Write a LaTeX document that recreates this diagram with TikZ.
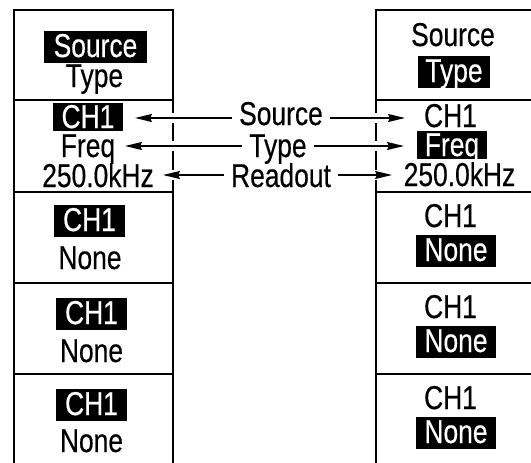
\documentclass[tikz,border=0pt]{standalone}
\usepackage{fontspec}
\setmainfont{Liberation Sans}[FakeStretch=0.8,FakeBold=0.4]
\usetikzlibrary{arrows.meta}
\begin{document}
\begin{tikzpicture}[x=1pt,y=-1pt,
  txt/.style={font=\fontsize{33}{33}\selectfont, inner sep=0pt, anchor=base},
  hl/.style={txt, fill=black, text=white, text height=24pt, text depth=4pt, inner ysep=2pt, inner xsep=0pt},
  tight/.style={text depth=1.5pt, inner ysep=1.5pt},
  border/.style={line width=2.7pt, line cap=rect},
  divider/.style={line width=1.4pt},
  gapline/.style={white, line width=4pt},
  arr/.style={line width=1.8pt, -{Stealth[length=17pt,width=8pt,inset=2pt]}}
]
\useasboundingbox (0,0) rectangle (531,463);
% panels
\draw[border] (14,463) -- (14,10) -- (173,10) -- (173,463);
\draw[border] (531,10) -- (376,10) -- (376,463);
\foreach \yy in {100,192,283,374}{
  \draw[divider] (14,\yy) -- (173,\yy);
  \draw[divider] (376,\yy) -- (531,\yy);
}
% gaps in borders where arrows cross
\foreach \yy in {118,146,175}{
  \draw[gapline] (173,\yy-5) -- (173,\yy+5);
  \draw[gapline] (376,\yy-5) -- (376,\yy+5);
}
% left column
\node[hl, minimum width=103pt] (lsrc) at (95.5,57) {Source};
\node[txt] (ltype) at (94.5,87) {Type};
\node[hl, tight, minimum width=70pt] (lch1a) at (88,128) {CH1};
\node[txt] (lfreq) at (88,157) {Freq};
\node[txt] (lread) at (98,187) {250.0kHz};
\node[hl, minimum width=71pt] (lch1b) at (89.5,231) {CH1};
\node[txt] (lnoneb) at (90,269) {None};
\node[hl, minimum width=71pt] (lch1c) at (91.5,324) {CH1};
\node[txt] (lnonec) at (91.5,362) {None};
\node[hl, minimum width=71pt] (lch1d) at (91.5,415) {CH1};
\node[txt] (lnoned) at (91.5,452) {None};
% right column
\node[txt] (rsrc) at (453,46) {Source};
\node[hl, minimum width=72pt] (rtype) at (454,82) {Type};
\node[txt] (rch1a) at (450.5,127) {CH1};
\node[hl, tight, minimum width=70pt] (rfreq) at (452,156) {Freq};
\node[txt] (rread) at (459.5,186) {250.0kHz};
\node[txt] (rch1b) at (450.5,227) {CH1};
\node[hl, minimum width=80pt] (rnoneb) at (456,261) {None};
\node[txt] (rch1c) at (450.5,318) {CH1};
\node[hl, minimum width=80pt] (rnonec) at (456,352) {None};
\node[txt] (rch1d) at (450.5,409) {CH1};
\node[hl, minimum width=80pt] (rnoned) at (456,443) {None};
% middle labels
\node[txt] (msrc) at (281,125) {Source};
\node[txt] (mtype) at (278,157) {Type};
\node[txt] (mread) at (281,187) {Readout};
% arrow end points
\coordinate (a1l) at (msrc.west |- 0,118);
\coordinate (a1r) at (msrc.east |- 0,118);
\coordinate (a2l) at (mtype.west |- 0,146);
\coordinate (a2r) at (mtype.east |- 0,146);
\coordinate (a3l) at (mread.west |- 0,175);
\coordinate (a3r) at (mread.east |- 0,175);
\coordinate (t1l) at (135,118);
\coordinate (t2l) at (125,146);
\coordinate (t3l) at (163,175);
\coordinate (t1r) at (405,118);
\coordinate (t2r) at (404,146);
\coordinate (t3r) at (392,175);
\draw[arr, shorten <=7pt] (a1l) -- (t1l);
\draw[arr, shorten <=7pt] (a2l) -- (t2l);
\draw[arr, shorten <=7pt] (a3l) -- (t3l);
\draw[arr, shorten <=7pt] (a1r) -- (t1r);
\draw[arr, shorten <=7pt] (a2r) -- (t2r);
\draw[arr, shorten <=7pt] (a3r) -- (t3r);
\end{tikzpicture}
\end{document}
